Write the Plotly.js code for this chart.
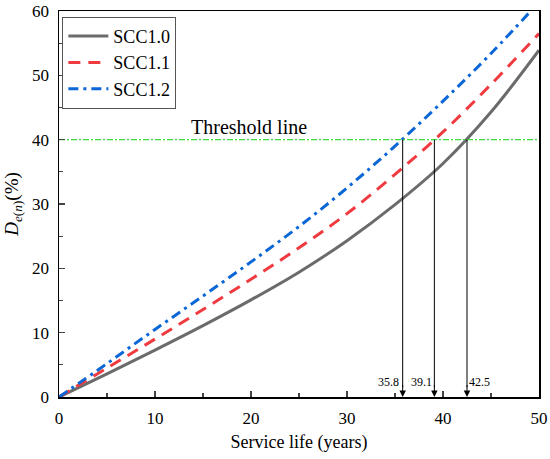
<!DOCTYPE html>
<html>
<head>
<meta charset="utf-8">
<script src="https://cdn.plot.ly/plotly-3.0.1.min.js"></script>
<style>html,body{margin:0;padding:0;background:#fff;}#chart{width:550px;height:459px;}</style>
</head>
<body>
<div id="chart"></div>
<script>
const years = [0, 5, 10, 15, 20, 25, 30, 35, 40, 45, 50];
const scc10 = [0, 3.6, 7.3, 11.1, 15.1, 19.4, 24.3, 29.9, 36.3, 44.3, 53.9];
const scc11 = [0, 4.5, 9.0, 13.6, 18.3, 23.2, 28.5, 34.6, 41.2, 48.6, 56.5];
const scc12 = [0, 5.2, 10.5, 15.7, 21.0, 26.5, 32.5, 39.0, 46.0, 53.4, 61.4];
const seriesNames = ['SCC1.0', 'SCC1.1', 'SCC1.2'];
const threshold = 40;
const crossYears = [35.8, 39.1, 42.5];
const crossLabels = ['35.8', '39.1', '42.5'];
const labelX = [34.3, 37.8, 43.85];

const serif = 'Liberation Serif';

const traces = [
  {x: years, y: scc10, name: seriesNames[0], mode: 'lines',
   line: {color: '#6b6b6b', width: 3, shape: 'spline'}},
  {x: years, y: scc11, name: seriesNames[1], mode: 'lines',
   line: {color: '#ef3a40', width: 3, dash: '12px,8px', shape: 'spline'}},
  {x: years, y: scc12, name: seriesNames[2], mode: 'lines',
   line: {color: '#0b66d6', width: 3, dash: '10px,5px,3px,5px', shape: 'spline'}},
  {x: [0, 50], y: [threshold, threshold], mode: 'lines', showlegend: false,
   line: {color: '#3fdc3f', width: 1.2, dash: '6px,2px,2px,2px'}}
];

const shapes = crossYears.map(cy => ({type: 'line', xref: 'x', yref: 'y',
  x0: cy, x1: cy, y0: threshold, y1: 1.5, line: {color: '#000', width: 1}}));

const annotations = [];
crossYears.forEach((cy, i) => {
  annotations.push({x: cy, y: 0, ax: 0, ay: -14, xref: 'x', yref: 'y',
    showarrow: true, arrowhead: 2, arrowsize: 1.3, standoff: 0,
    arrowwidth: 1, arrowcolor: '#000', text: ' ', font: {size: 1}});
  annotations.push({x: labelX[i], y: 2.4, xref: 'x', yref: 'y', showarrow: false,
    text: crossLabels[i], font: {family: serif, size: 12, color: '#000'}});
});
annotations.push({x: 19.8, y: 42.0, xref: 'x', yref: 'y', showarrow: false,
  text: 'Threshold line', font: {family: serif, size: 20, color: '#000'}});

const layout = {
  width: 550, height: 459,
  margin: {l: 59, r: 11, t: 11, b: 62},
  paper_bgcolor: '#fff', plot_bgcolor: '#fff',
  font: {family: serif, size: 17, color: '#000'},
  showlegend: true,
  legend: {x: 0.007, y: 0.985, xanchor: 'left', yanchor: 'top',
    bordercolor: '#555', borderwidth: 1, bgcolor: '#fff',
    font: {family: serif, size: 18}, itemwidth: 40, tracegroupgap: 0},
  xaxis: {range: [0, 50], dtick: 10, ticks: 'inside', ticklen: 6, tickwidth: 1.5,
    showline: true, linecolor: '#000', linewidth: 1.5, mirror: true,
    showgrid: false, zeroline: false, tickfont: {family: serif, size: 17},
    ticklabelstandoff: 5,
    minor: {dtick: 5, ticks: 'inside', ticklen: 4, tickwidth: 1.2, showgrid: false},
    title: {text: 'Service life (years)', font: {family: serif, size: 18}, standoff: 8}},
  yaxis: {range: [0, 60], dtick: 10, ticks: 'inside', ticklen: 6, tickwidth: 1.5,
    showline: true, linecolor: '#000', linewidth: 1.5, mirror: true,
    showgrid: false, zeroline: false, tickfont: {family: serif, size: 17},
    ticklabelstandoff: 5,
    minor: {dtick: 5, ticks: 'inside', ticklen: 4, tickwidth: 1.2, showgrid: false},
    title: {text: '<i>D</i><sub><i>e</i>(<i>n</i>)</sub>(%)', font: {family: serif, size: 19}, standoff: 8}},
  shapes: shapes,
  annotations: annotations
};

Plotly.newPlot('chart', traces, layout, {displayModeBar: false, staticPlot: true});
</script>
</body>
</html>
